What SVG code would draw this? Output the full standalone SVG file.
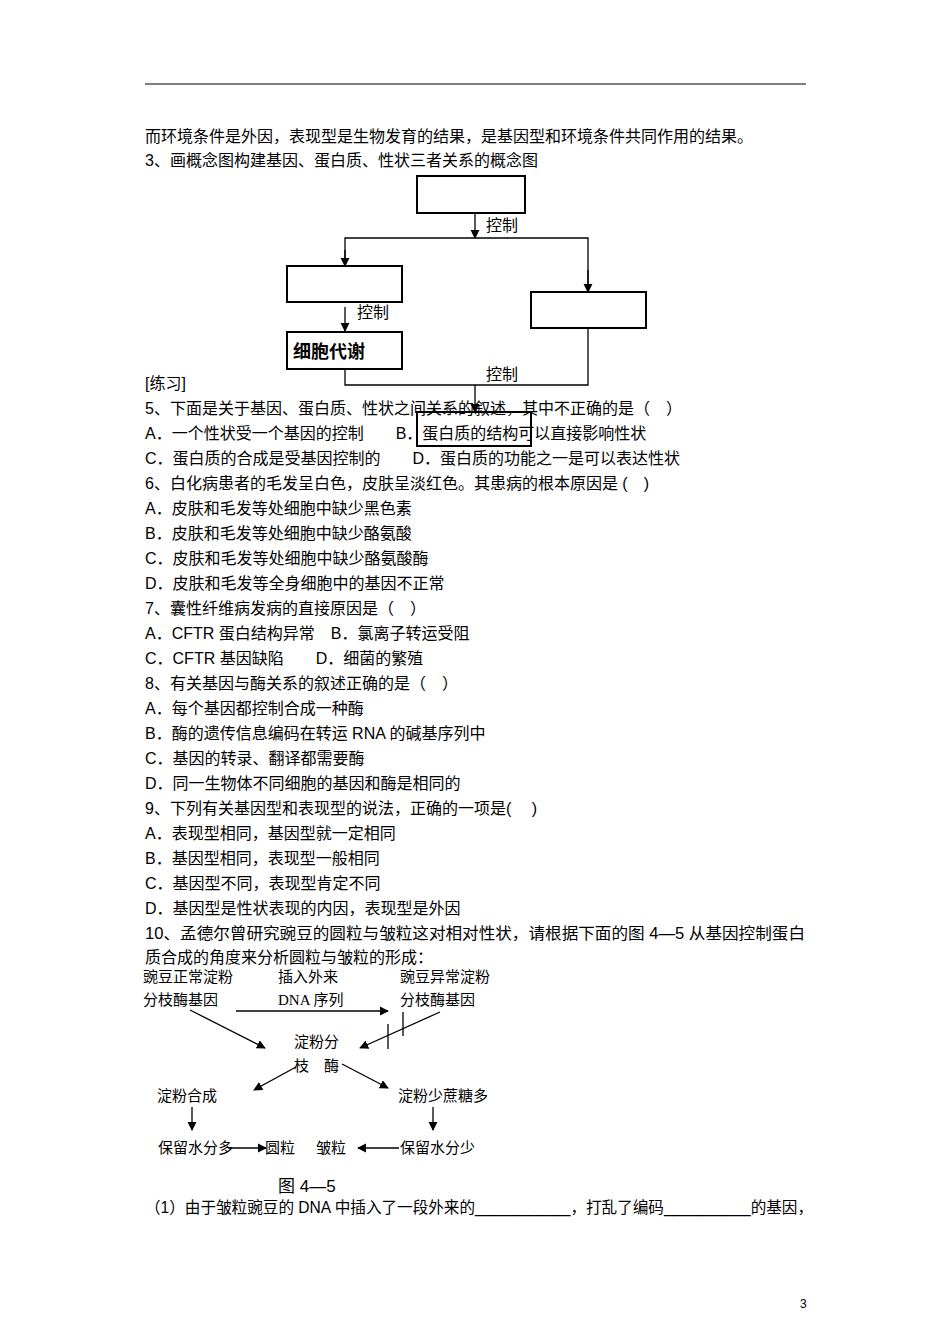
<svg xmlns="http://www.w3.org/2000/svg" width="950" height="1344" viewBox="0 0 950 1344">
<style>
text{font-family:"Liberation Sans","Noto Sans CJK SC",sans-serif;font-size:16px;fill:#000}
.f{font-size:15px}
.box{fill:none;stroke:#000;stroke-width:2}
.ln{stroke:#000;stroke-width:1.3;fill:none}
</style>
<defs>
<marker id="a" viewBox="0 0 10 10" refX="9" refY="5" markerWidth="7" markerHeight="7" orient="auto"><path d="M0,0L10,5L0,10z" fill="#000"/></marker>
</defs>
<rect width="950" height="1344" fill="#fff"/>
<line x1="145" y1="84" x2="806" y2="84" stroke="#000" stroke-width="1"/>
<text x="145" y="142">而环境条件是外因，表现型是生物发育的结果，是基因型和环境条件共同作用的结果。</text>
<text x="145" y="166">3、画概念图构建基因、蛋白质、性状三者关系的概念图</text>
<g id="n1"><rect class="box" x="417" y="176" width="108" height="37"/></g>
<g id="n2"><rect class="box" x="287" y="266" width="115" height="36"/></g>
<g id="n3"><rect class="box" x="531" y="292" width="115" height="36"/></g>
<g id="n4"><rect class="box" x="287" y="332" width="115" height="37" stroke-width="2.5"/><text x="293" y="358" style="font-size:18px;font-weight:bold">细胞代谢</text></g>
<g id="n5"><rect class="box" x="417" y="412" width="114" height="34"/></g>
<g id="connectors">
<line class="ln" x1="475" y1="213" x2="475" y2="238" marker-end="url(#a)"/>
<polyline class="ln" points="345,266 345,238 588,238 588,292"/>
<line class="ln" x1="345" y1="250" x2="345" y2="266" marker-end="url(#a)"/>
<line class="ln" x1="588" y1="270" x2="588" y2="292" marker-end="url(#a)"/>
<line class="ln" x1="345" y1="307" x2="345" y2="331" marker-end="url(#a)"/>
<polyline class="ln" points="345,369 345,385 588,385 588,328"/>
<line class="ln" x1="475" y1="385" x2="475" y2="412" marker-end="url(#a)"/>
<text x="486" y="231">控制</text>
<text x="357" y="318">控制</text>
<text x="486" y="380">控制</text>
</g>
<text x="145" y="389">[练习]</text>
<text x="145" y="414">5、下面是关于基因、蛋白质、性状之间关系的叙述，其中不正确的是（　）</text>
<text x="145" y="439">A．一个性状受一个基因的控制　　B．蛋白质的结构可以直接影响性状</text>
<text x="145" y="464">C．蛋白质的合成是受基因控制的　　D．蛋白质的功能之一是可以表达性状</text>
<text x="145" y="489">6、白化病患者的毛发呈白色，皮肤呈淡红色。其患病的根本原因是 (　)</text>
<text x="145" y="514">A．皮肤和毛发等处细胞中缺少黑色素</text>
<text x="145" y="539">B．皮肤和毛发等处细胞中缺少酪氨酸</text>
<text x="145" y="564">C．皮肤和毛发等处细胞中缺少酪氨酸酶</text>
<text x="145" y="589">D．皮肤和毛发等全身细胞中的基因不正常</text>
<text x="145" y="614">7、囊性纤维病发病的直接原因是（　）</text>
<text x="145" y="639">A．CFTR 蛋白结构异常　B．氯离子转运受阻</text>
<text x="145" y="664">C．CFTR 基因缺陷　　D．细菌的繁殖</text>
<text x="145" y="689">8、有关基因与酶关系的叙述正确的是（　）</text>
<text x="145" y="714">A．每个基因都控制合成一种酶</text>
<text x="145" y="739">B．酶的遗传信息编码在转运 RNA 的碱基序列中</text>
<text x="145" y="764">C．基因的转录、翻译都需要酶</text>
<text x="145" y="789">D．同一生物体不同细胞的基因和酶是相同的</text>
<text x="145" y="814">9、下列有关基因型和表现型的说法，正确的一项是(　 )</text>
<text x="145" y="839">A．表现型相同，基因型就一定相同</text>
<text x="145" y="864">B．基因型相同，表现型一般相同</text>
<text x="145" y="889">C．基因型不同，表现型肯定不同</text>
<text x="145" y="914">D．基因型是性状表现的内因，表现型是外因</text>
<text x="145" y="939" textLength="660" lengthAdjust="spacingAndGlyphs">10、孟德尔曾研究豌豆的圆粒与皱粒这对相对性状，请根据下面的图 4—5 从基因控制蛋白</text>
<text x="145" y="963">质合成的角度来分析圆粒与皱粒的形成：</text>
<g id="fig">
<text class="f" x="143" y="982">豌豆正常淀粉</text>
<text class="f" x="143" y="1005">分枝酶基因</text>
<text class="f" x="278" y="982">插入外来</text>
<text class="f" x="278" y="1005" style="font-family:'Liberation Serif','Noto Sans CJK SC',serif">DNA 序列</text>
<text class="f" x="400" y="982">豌豆异常淀粉</text>
<text class="f" x="400" y="1005">分枝酶基因</text>
<text class="f" x="294" y="1047">淀粉分</text>
<text class="f" x="294" y="1071">枝　酶</text>
<text class="f" x="157" y="1101">淀粉合成</text>
<text class="f" x="398" y="1101">淀粉少蔗糖多</text>
<text class="f" x="158" y="1153">保留水分多</text>
<text class="f" x="265" y="1153">圆粒</text>
<text class="f" x="316" y="1153">皱粒</text>
<text class="f" x="400" y="1153">保留水分少</text>
<text x="278" y="1192" style="font-size:17px">图 4—5</text>
</g>
<g id="figconn">
<line class="ln" x1="236" y1="1011" x2="388" y2="1011" marker-end="url(#a)"/>
<line class="ln" x1="190" y1="1010" x2="265" y2="1048" marker-end="url(#a)"/>
<line class="ln" x1="440" y1="1012" x2="360" y2="1048" marker-end="url(#a)"/>
<line class="ln" x1="388" y1="1024" x2="388" y2="1049"/>
<line class="ln" x1="403" y1="1012" x2="403" y2="1036"/>
<line class="ln" x1="296" y1="1067" x2="254" y2="1090" marker-end="url(#a)"/>
<line class="ln" x1="342" y1="1064" x2="388" y2="1088" marker-end="url(#a)"/>
<line class="ln" x1="192" y1="1107" x2="192" y2="1130" marker-end="url(#a)"/>
<line class="ln" x1="433" y1="1107" x2="433" y2="1130" marker-end="url(#a)"/>
<line class="ln" x1="228" y1="1148" x2="266" y2="1148" marker-end="url(#a)"/>
<line class="ln" x1="399" y1="1148" x2="358" y2="1148" marker-end="url(#a)"/>
</g>
<text x="145" y="1213" textLength="668" lengthAdjust="spacingAndGlyphs">（1）由于皱粒豌豆的 DNA 中插入了一段外来的___________，打乱了编码__________的基因，</text>
<text x="800" y="1308" style="font-size:12px">3</text>
</svg>
